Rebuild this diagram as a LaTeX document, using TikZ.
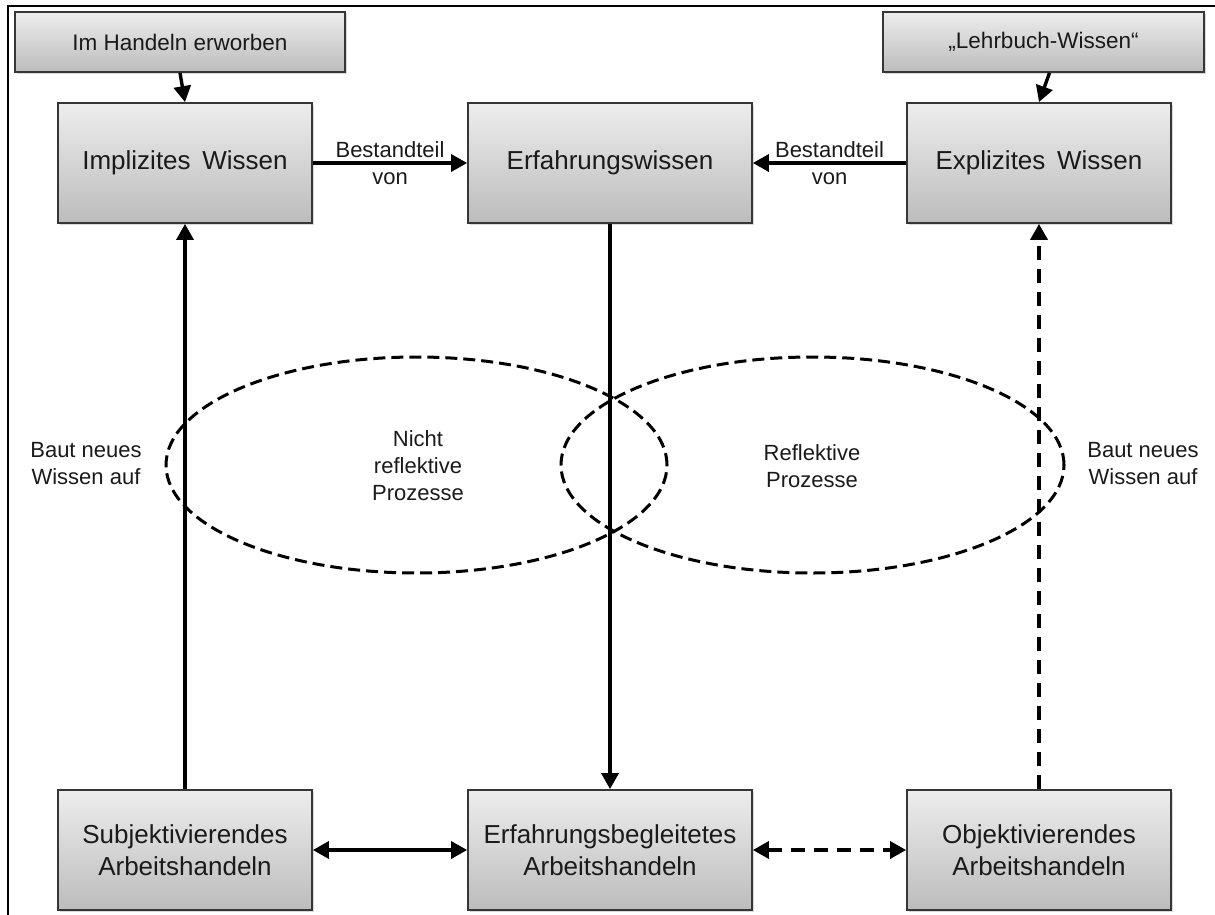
\documentclass[tikz,border=0pt]{standalone}
\usepackage{fontspec}
\setmainfont{Liberation Sans}
\usetikzlibrary{arrows.meta,shadows}

\definecolor{boxtop}{HTML}{EDEDED}
\definecolor{boxbot}{HTML}{BCBCBC}
\definecolor{boxline}{HTML}{363636}
\definecolor{inktext}{HTML}{1A1A1A}

\begin{document}
\begin{tikzpicture}[x=1pt,y=-1pt,
  box/.style={draw=boxline, line width=1.8pt, top color=boxtop, bottom color=boxbot,
    inner sep=0pt, align=center, text=inktext, font=\fontsize{26}{32}\selectfont,
    drop shadow={shadow xshift=2pt, shadow yshift=-2pt, opacity=0.3}},
  bigbox/.style={box, minimum height=120pt},
  smallbox/.style={box, minimum height=60pt, font=\fontsize{22.5}{27}\selectfont},
  tip/.tip={Triangle[width=17pt,length=16pt]},
  link/.style={line width=3.4pt, -tip},
  twoway/.style={line width=3.4pt, tip-tip},
  broken/.style={dash pattern=on 14pt off 9pt},
  caption/.style={font=\fontsize{22}{27}\selectfont, align=center, text=inktext, inner sep=0pt},
  zone/.style={line width=3pt, dash pattern=on 12pt off 6pt}
]
\useasboundingbox (0,0) rectangle (1215,915);

% frame (left and top edges)
\draw[line width=2.2pt] (8,915) -- (8,6) -- (1215,6);

% source boxes
\node[smallbox, minimum width=330pt] (handeln) at (180,42) {Im Handeln erworben};
\node[smallbox, minimum width=321pt] (lehrbuch) at (1043.5,42) {„Lehrbuch-Wissen“};

% knowledge row
\node[bigbox, minimum width=254pt] (impl) at (185,163) {Implizites\hspace{0.45em}Wissen};
\node[bigbox, minimum width=284pt] (erf) at (610,163) {Erfahrungswissen};
\node[bigbox, minimum width=264pt] (expl) at (1039,163) {Explizites\hspace{0.45em}Wissen};

% action row
\node[bigbox, minimum width=254pt] (subj) at (185,850) {Subjektivierendes\\Arbeitshandeln};
\node[bigbox, minimum width=284pt] (erfb) at (610,850) {Erfahrungsbegleitetes\\Arbeitshandeln};
\node[bigbox, minimum width=264pt] (obj) at (1039,850) {Objektivierendes\\Arbeitshandeln};

% process zones
\draw[zone] (416.5,465) ellipse [x radius=250.5pt, y radius=108pt];
\draw[zone] (812.5,465) ellipse [x radius=251.5pt, y radius=108pt];
\node[caption] (nonrefl) at (418,466) {Nicht\\reflektive\\Prozesse};
\node[caption] (refl) at (812,466) {Reflektive\\Prozesse};

% side captions
\node[caption] (buildL) at (86,464) {Baut neues\\Wissen auf};
\node[caption] (buildR) at (1143,464) {Baut neues\\Wissen auf};

% connectors
\draw[link] (handeln.south) -- (impl.north);
\draw[link] ([xshift=6pt]lehrbuch.south) -- (expl.north);
\draw[link] (impl.east) -- node[caption] (partL) {Bestandteil\\von} (erf.west);
\draw[link] (expl.west) -- node[caption] (partR) {Bestandteil\\von} (erf.east);
\draw[link] (subj.north) -- (impl.south);
\draw[link] (erf.south) -- (erfb.north);
\draw[link, broken] (obj.north) -- (expl.south);
\draw[twoway] (subj.east) -- (erfb.west);
\draw[twoway, broken] (erfb.east) -- (obj.west);
\end{tikzpicture}
\end{document}
